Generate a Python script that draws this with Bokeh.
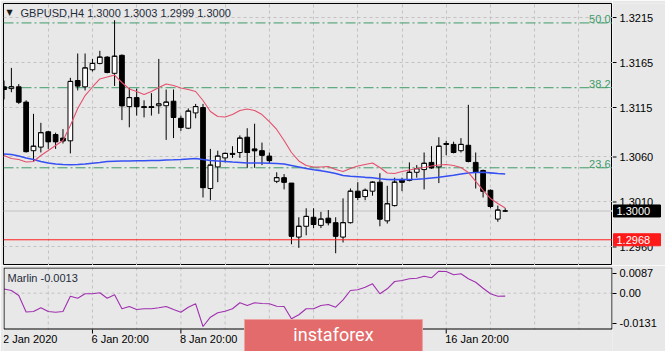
from bokeh.plotting import figure
from bokeh.layouts import column, row
from bokeh.models import (Range1d, FixedTicker, Grid, Span, Label, ColumnDataSource,
                          CustomJSTickFormatter)
from bokeh.core.properties import value
from bokeh.embed import file_html
from bokeh.resources import INLINE

# ---------------- data ----------------
bars = list(range(69))
opens = [1.3138, 1.3136, 1.3138, 1.3121, 1.3067, 1.3071, 1.3088, 1.3085, 1.3081, 1.3078,
         1.3145, 1.3138, 1.3157, 1.3164, 1.3171, 1.3153, 1.3173, 1.3116, 1.3126, 1.3116,
         1.3116, 1.3117, 1.3117, 1.3122, 1.3103, 1.3092, 1.3109, 1.3115, 1.3025, 1.3049,
         1.3059, 1.3064, 1.3065, 1.3082, 1.3069, 1.3067, 1.3061, 1.3033, 1.3037, 1.3031,
         1.2971, 1.2983, 1.2993, 1.2984, 1.2992, 1.2987, 1.2971, 1.2987, 1.3022, 1.3016,
         1.3022, 1.3032, 1.2989, 1.3006, 1.3035, 1.3034, 1.3043, 1.3046, 1.3054, 1.3049,
         1.3075, 1.3074, 1.3067, 1.3073, 1.3054, 1.3045, 1.3023, 1.2991, 1.3000]
highs = [1.3145, 1.3159, 1.3141, 1.3123, 1.3108, 1.3098, 1.3089, 1.3087, 1.3091, 1.3148,
         1.3175, 1.3175, 1.3169, 1.3178, 1.3172, 1.3212, 1.3174, 1.3137, 1.3136, 1.3123,
         1.3131, 1.3169, 1.3135, 1.3135, 1.3106, 1.3114, 1.3119, 1.3119, 1.3069, 1.3067,
         1.3065, 1.3072, 1.3084, 1.3092, 1.3097, 1.3076, 1.3065, 1.3043, 1.3041, 1.3031,
         1.2993, 1.3003, 1.3003, 1.2999, 1.3001, 1.2993, 1.3014, 1.3025, 1.3032, 1.3025,
         1.3033, 1.3042, 1.3028, 1.3037, 1.3037, 1.3054, 1.3051, 1.3065, 1.3072, 1.3082,
         1.3078, 1.3077, 1.3081, 1.3118, 1.3065, 1.3046, 1.3024, 1.3006, 1.3003]
lows = [1.3124, 1.3132, 1.3119, 1.3065, 1.3055, 1.3065, 1.3069, 1.3069, 1.3075, 1.3064,
        1.3134, 1.3134, 1.3155, 1.3163, 1.3153, 1.3139, 1.3101, 1.3093, 1.3106, 1.3104,
        1.3106, 1.3108, 1.3079, 1.3081, 1.3089, 1.3091, 1.3103, 1.3015, 1.3012, 1.3032,
        1.3054, 1.3059, 1.3059, 1.3048, 1.3048, 1.3051, 1.3053, 1.3031, 1.3024, 1.2963,
        1.2959, 1.2973, 1.2981, 1.2981, 1.2984, 1.2953, 1.2965, 1.2986, 1.3012, 1.3012,
        1.3017, 1.2983, 1.2986, 1.3005, 1.3022, 1.3033, 1.3037, 1.3024, 1.3047, 1.3031,
        1.3062, 1.3064, 1.3065, 1.3054, 1.3025, 1.3015, 1.3003, 1.2988, 1.2999]
closes = [1.3135, 1.3138, 1.3121, 1.3066, 1.3072, 1.3087, 1.3077, 1.3077, 1.3078, 1.3144,
          1.3139, 1.3159, 1.3164, 1.3171, 1.3154, 1.3172, 1.3117, 1.3126, 1.3116, 1.3115,
          1.3115, 1.3119, 1.3121, 1.3104, 1.3093, 1.3111, 1.3116, 1.3026, 1.3051, 1.3061,
          1.3064, 1.3063, 1.3081, 1.3065, 1.3067, 1.3062, 1.3056, 1.3037, 1.3032, 1.2972,
          1.2983, 1.2994, 1.2985, 1.2991, 1.2987, 1.2972, 1.2987, 1.3022, 1.3015, 1.3023,
          1.3032, 1.2991, 1.3008, 1.3032, 1.3032, 1.3043, 1.3047, 1.3053, 1.3048, 1.3072,
          1.3074, 1.3065, 1.3074, 1.3055, 1.3043, 1.3022, 1.3005, 1.3001, 1.3000]
ma_fast = [1.30617, 1.30583, 1.30572, 1.30544, 1.3055, 1.30617, 1.30672, 1.30728, 1.30783, 1.3095,
           1.31139, 1.31283, 1.31378, 1.31467, 1.31489, 1.31511, 1.31428, 1.31356, 1.31328, 1.31294,
           1.31328, 1.31372, 1.31411, 1.31394, 1.31367, 1.3135, 1.31328, 1.31228, 1.31106, 1.3105,
           1.31044, 1.31072, 1.31117, 1.31133, 1.31117, 1.31072, 1.30994, 1.30906, 1.30783, 1.3065,
           1.30556, 1.30506, 1.30489, 1.30489, 1.30494, 1.30461, 1.30439, 1.30472, 1.305, 1.30517,
           1.30533, 1.30483, 1.30422, 1.30417, 1.30439, 1.30456, 1.30472, 1.30483, 1.305, 1.30511,
           1.30517, 1.30506, 1.30483, 1.30428, 1.30328, 1.30228, 1.30139, 1.30083, 1.30033]
ma_slow = [1.30633, 1.30628, 1.30611, 1.30589, 1.30572, 1.3055, 1.30533, 1.30522, 1.30517, 1.30513,
           1.30517, 1.30522, 1.30531, 1.30539, 1.3055, 1.30553, 1.30556, 1.30556, 1.30558, 1.30559,
           1.30561, 1.30561, 1.30567, 1.30569, 1.30572, 1.30578, 1.30583, 1.30572, 1.30561, 1.30556,
           1.3055, 1.30544, 1.30539, 1.30533, 1.30533, 1.30533, 1.30531, 1.30528, 1.30522, 1.30506,
           1.30489, 1.30472, 1.30458, 1.30448, 1.30433, 1.30417, 1.30394, 1.30386, 1.3038, 1.30374,
           1.30369, 1.30358, 1.3035, 1.30348, 1.30348, 1.3035, 1.30353, 1.30358, 1.30367, 1.30374,
           1.30386, 1.30397, 1.30411, 1.30422, 1.30428, 1.3043, 1.30424, 1.30417, 1.30411]
marlin = [0.00184, 0.00118, -0.00101, -0.00825, -0.00803, -0.0064, -0.00803, -0.00833, -0.00803, -0.00132,
          -0.00219, -0.00026, -0.00026, 0.00018, -0.00219, -0.0007, -0.00684, -0.00583, -0.00715, -0.00684,
          -0.00684, -0.0064, -0.00583, -0.00715, -0.00833, -0.00614, -0.00465, -0.01461, -0.01053, -0.0086,
          -0.00789, -0.00684, -0.00421, -0.0054, -0.00421, -0.00452, -0.00465, -0.0057, -0.00583, -0.01123,
          -0.00947, -0.00684, -0.00684, -0.0054, -0.00496, -0.00614, -0.00289, 0.00118, 0.00149, 0.00263,
          0.00412, -0.00026, 0.00193, 0.00513, 0.00557, 0.00632, 0.00658, 0.00746, 0.00675, 0.00965,
          0.00952, 0.00807, 0.00851, 0.00632, 0.00482, 0.00219, -0.00026, -0.00132, -0.0013]

price_ticks = [1.3215, 1.3165, 1.3115, 1.3060, 1.3010, 1.2960]
price_tick_labels = ["1.3215", "1.3165", "1.3115", "1.3060", "1.3010", "1.2960"]
marlin_ticks = [0.0087, 0.0, -0.0131]
fib_levels = [1.3209, 1.3137, 1.3048]
fib_labels = ["50.0", "38.2", "23.6"]
bid_price = 1.3000
level_price = 1.2968
day_grid_bars = [6, 12, 18, 24, 30, 36, 42, 48, 54, 60, 66, 72, 78]
time_tick_bars = [0, 12, 24, 36, 48, 60]
time_tick_labels = ["2 Jan 2020", "6 Jan 20:00", "8 Jan 20:00", "10 Jan 20:00",
                    "14 Jan 20:00", "16 Jan 20:00"]
symbol = "GBPUSD,H4"
banner_text = "instaforex"

# ---------------- style / layout constants ----------------
BG = "#e8e8e8"
GRID_C = "#c2c2c2"
FIB_C = "#3e9b69"
FONT = "Liberation Sans"
BANNER = "#e36b6b"
X0, X1 = -0.07, 82.56
PX_PER_BAR = 609.0 / (X1 - X0)
SUB_TOP = 0.01127                 # value at page y 267 (top of the indicator window)
SUB_PER_PX = 0.02719 / 62.0       # indicator units per pixel
SUB_FRAME_H = 84                  # indicator window + time scale (page y 267..351)


def sub_y(page_y):
    return SUB_TOP - (page_y - 267) * SUB_PER_PX


BANNER_BAR = 44.70      # horizontal centre of the banner, in bar units

body_top = [max(o, c) for o, c in zip(opens, closes)]
body_bot = [min(o, c) for o, c in zip(opens, closes)]
fills = ["white" if c > o else "black" for o, c in zip(opens, closes)]
src = ColumnDataSource(dict(x=bars, h=highs, l=lows, top=body_top, bot=body_bot,
                            c=closes, fill=fills,
                            xl=[b - 0.32 for b in bars], xr=[b + 0.32 for b in bars]))

common = dict(toolbar_location=None, output_backend="svg",
              background_fill_color=BG, border_fill_color=BG)

# ---------------- main panel ----------------
p = figure(frame_width=609, frame_height=262,
           x_range=Range1d(X0, X1), y_range=Range1d(1.29394, 1.32306),
           x_axis_location=None, y_axis_location=None,
           min_border_left=3, min_border_right=0, min_border_top=3, min_border_bottom=0,
           outline_line_color="black", outline_line_width=1, **common)
p.grid.visible = False
p.add_layout(Grid(dimension=0, ticker=FixedTicker(ticks=day_grid_bars),
                  grid_line_color=GRID_C, grid_line_dash="3 3"))
p.add_layout(Grid(dimension=1, ticker=FixedTicker(ticks=price_ticks),
                  grid_line_color=GRID_C, grid_line_dash="3 3"))

for lvl in fib_levels:
    p.add_layout(Span(location=lvl, dimension="width", line_color=FIB_C,
                      line_dash="10 3 2 3", line_width=1, level="underlay"))
p.add_layout(Span(location=bid_price, dimension="width", line_color="#cfcfcf",
                  line_width=1.5, level="underlay"))

p.segment(x0="x", y0="h", x1="x", y1="l", source=src, line_color="black", line_width=1)
p.vbar(x="x", top="top", bottom="bot", width=0.64, source=src,
       fill_color="fill", line_color="black", line_width=1)
p.segment(x0="xl", y0="c", x1="xr", y1="c", source=src, line_color="black", line_width=1)

p.line(bars, ma_slow, line_color="#3550f2", line_width=1.6)
p.line(bars, ma_fast, line_color="#e4506c", line_width=1.1)

p.add_layout(Span(location=level_price, dimension="width", line_color="#ff2020", line_width=1))

for lvl, txt in zip(fib_levels, fib_labels):
    p.add_layout(Label(x=607, x_units="screen", y=lvl, y_units="data", text=txt,
                       text_align="right", text_baseline="bottom", text_color=FIB_C,
                       text_font=FONT, text_font_size="11px"))

p.add_layout(Label(x=3, y=253, x_units="screen", y_units="screen", text="\u25bc",
                   text_font="DejaVu Sans", text_font_size="8px", text_baseline="middle",
                   text_color="#1a1a1a"))
title = f"{symbol}  {opens[-1]:.4f} {highs[-1]:.4f} {lows[-1]:.4f} {closes[-1]:.4f}"
p.add_layout(Label(x=17, y=253, x_units="screen", y_units="screen", text=title,
                   text_font=FONT, text_font_size="11px", text_baseline="middle",
                   text_color="#1e2b3a"))

# ---------------- price scale (right of main) ----------------
s = figure(frame_width=53, frame_height=262, x_range=Range1d(0, 53), y_range=p.y_range,
           x_axis_location=None, y_axis_location=None,
           min_border_left=0, min_border_right=0, min_border_top=3, min_border_bottom=0,
           outline_line_color=None, **common)
s.grid.visible = False
s.segment(x0=[0] * len(price_ticks), x1=[4] * len(price_ticks), y0=price_ticks, y1=price_ticks,
          line_color="black", line_width=1)
s.text(x=[7] * len(price_ticks), y=price_ticks, text=price_tick_labels,
       text_font=value(FONT), text_font_size="11px", text_color="black",
       text_align="left", text_baseline="middle")
box_prices = [bid_price, level_price]
box_colors = ["black", "#ff1a1a"]
s.rect(x=[24.5, 24.5], y=box_prices, width=47, height=12, height_units="screen",
       fill_color=box_colors, line_color=box_colors)
s.text(x=[4, 4], y=box_prices, text=[f"{v:.4f}" for v in box_prices],
       text_font=value(FONT), text_font_size="11px", text_color="white",
       text_align="left", text_baseline="middle")

# ---------------- indicator window + time scale ----------------
q = figure(frame_width=609, frame_height=SUB_FRAME_H,
           x_range=Range1d(X0, X1),
           y_range=Range1d(sub_y(267 + SUB_FRAME_H), SUB_TOP),
           x_axis_location=None, y_axis_location="right",
           min_border_left=3, min_border_right=53, min_border_top=2, min_border_bottom=0,
           outline_line_color=None, **common)
q.grid.visible = False
n_g = len(day_grid_bars)
q.segment(x0=day_grid_bars, x1=day_grid_bars, y0=[sub_y(267)] * n_g, y1=[sub_y(329)] * n_g,
          line_color=GRID_C, line_dash="3 3", line_width=1)
q.segment(x0=[X0], x1=[X1], y0=[0.0], y1=[0.0], line_color=GRID_C, line_dash="3 3", line_width=1)

qy = q.yaxis[0]
qy.ticker = FixedTicker(ticks=marlin_ticks)
qy.formatter = CustomJSTickFormatter(code="return tick == 0 ? '0.00' : tick.toFixed(4);")
qy.major_tick_out = 4
qy.major_tick_in = 0
qy.minor_tick_out = 0
qy.minor_tick_in = 0
qy.major_label_standoff = 3
qy.major_label_text_font = FONT
qy.major_label_text_font_size = "11px"
qy.major_label_text_color = "black"
qy.axis_line_color = None

q.line(bars, marlin, line_color="#a030b0", line_width=1.1)

# window border
half = 0.5 / PX_PER_BAR
q.quad(left=[X0 + half], right=[X1 - half], top=[sub_y(267.5)], bottom=[sub_y(328.5)],
       fill_color=None, line_color="black", line_width=1)

q.add_layout(Label(x=4, y=SUB_FRAME_H - 10, x_units="screen", y_units="screen",
                   text=f"Marlin {marlin[-1]:.4f}", text_font=FONT, text_font_size="11px",
                   text_baseline="middle", text_color="#1e2b3a"))

# time scale
tick_b = time_tick_bars[1:]
q.segment(x0=tick_b, x1=tick_b, y0=[sub_y(329)] * len(tick_b), y1=[sub_y(333)] * len(tick_b),
          line_color="black", line_width=1)
q.text(x=time_tick_bars, y=[sub_y(338)] * len(time_tick_bars), text=time_tick_labels,
       text_font=value(FONT), text_font_size="11px", text_color="black",
       text_align="left", text_baseline="middle", x_offset=-1)

# watermark banner
q.rect(x=[BANNER_BAR], y=[sub_y(339)], width=178, height=40,
       width_units="screen", height_units="screen",
       fill_color=BANNER, line_color="#eea3a3", line_width=1)
q.text(x=[BANNER_BAR], y=[sub_y(334)], text=[banner_text],
       text_font=value("Roboto"), text_font_size="18px", text_color="white",
       text_align="center", text_baseline="middle")

layout = column(row(p, s, spacing=0), q, spacing=0)
open("out.html", "w").write(file_html(layout, INLINE))
